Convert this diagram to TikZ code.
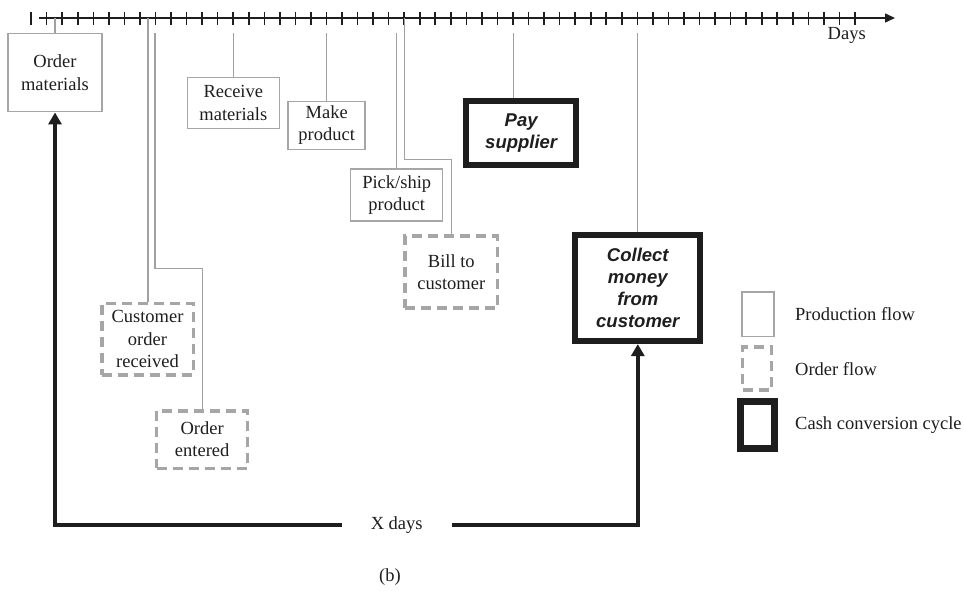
\documentclass[tikz,border=0pt]{standalone}
\usepackage{fontspec}
\setmainfont{Liberation Serif}
\newfontfamily\cashfont{Liberation Sans}
\usetikzlibrary{arrows.meta}
\definecolor{boxgrey}{HTML}{A6A6A6}
\definecolor{linegrey}{HTML}{A0A0A0}
\definecolor{ink}{HTML}{1E1E1E}
\begin{document}
\begin{tikzpicture}[x=1pt,y=-1pt,
  every node/.style={font=\fontsize{18.5}{22.3}\selectfont, text=ink, inner sep=0pt},
  prodbox/.style={draw=boxgrey, line width=1.5pt, align=center},
  orderbox/.style={draw=boxgrey, line width=3.5pt, dash pattern=on 10pt off 6pt, align=center},
  cashbox/.style={draw=ink, line width=6pt, align=center, font=\cashfont\bfseries\itshape\fontsize{18.5}{22}\selectfont},
  link/.style={draw=linegrey, line width=1.3pt},
  cyclearrow/.style={draw=ink, line width=4pt, -{Triangle[width=13pt,length=12pt]}},
  tickmark/.style={draw=ink, line width=1.6pt},
  legendtext/.style={anchor=west},
]
\useasboundingbox (0,0) rectangle (964,590);

% time axis
\coordinate (axS) at (39.3,18);
\coordinate (axE) at (895,18);
\draw[ink, line width=1.4pt, -{Triangle[length=10pt,width=9pt]}] (axS) -- (axE);
\foreach \k in {0,...,53} \draw[tickmark] (31.15+15.544*\k,12) -- ++(0,12.5);
\node (days) at (846.7,35) {Days};

% production flow boxes
\node[prodbox, minimum width=94pt, minimum height=78pt] (om) at (55,72.7) {Order\\materials};
\node[prodbox, minimum width=92pt, minimum height=51pt] (rm) at (233.3,103) {Receive\\materials};
\node[prodbox, minimum width=77pt, minimum height=48pt] (mp) at (326.7,125.3) {Make\\product};
\node[prodbox, minimum width=92pt, minimum height=52pt] (ps) at (396.7,195) {Pick/ship\\product};

% order flow boxes
\node[orderbox, minimum width=92.5pt, minimum height=72pt] (bc) at (451.3,272.2) {Bill to\\customer};
\node[orderbox, minimum width=91.5pt, minimum height=71.5pt] (cor) at (147.5,339.2) {Customer\\order\\received};
\node[orderbox, minimum width=91pt, minimum height=57.5pt] (oe) at (202.2,439.5) {Order\\entered};

% cash conversion boxes
\node[cashbox, minimum width=109.7pt, minimum height=64pt] (pay) at (521.2,133.3) {Pay\\supplier};
\node[cashbox, minimum width=125pt, minimum height=105.7pt] (cm) at (637.8,288.2) {Collect\\money\\from\\customer};

% connectors from the axis
\coordinate (a1) at (55,18);
\coordinate (a2) at (148,18);
\coordinate (a3) at (155,33);
\coordinate (a4) at (233.3,33);
\coordinate (a5) at (326.3,33);
\coordinate (a6) at (396.7,33);
\coordinate (a7) at (404.3,18);
\coordinate (a8) at (513.3,33);
\coordinate (a9) at (637.8,33);
\draw[link] (a1) -- (om.north);
\draw[link] (a2) -- (a2 |- cor.north);
\draw[link] (a3) -- ++(0,235.3) -| (oe.north);
\draw[link] (a4) -- (rm.north);
\draw[link] (a5) -- (a5 |- mp.north);
\draw[link] (a6) -- (ps.north);
\draw[link] (a7) -- ++(0,141.3) -| (bc.north);
\draw[link] (a8) -- (a8 |- pay.north);
\draw[link] (a9) -- (cm.north);

% X days cycle
\node[minimum width=110pt, minimum height=20pt] (xd) at (396.7,525) {X days};
\draw[cyclearrow] (xd.west) -- (xd.west -| om.south) -- (om.south);
\draw[cyclearrow] (xd.east) -- (xd.east -| cm.south) -- (cm.south);

% legend
\node[prodbox, minimum width=32pt, minimum height=44.5pt] (lp) at (757.8,314.2) {};
\node[orderbox, minimum width=29pt, minimum height=43pt] (lo) at (757,368.3) {};
\node[draw=ink, line width=7pt, minimum width=34pt, minimum height=46.4pt] (lc) at (757.8,425) {};
\node[legendtext] (tp) at (795,314.2) {Production flow};
\node[legendtext] (to) at (795,369) {Order flow};
\node[legendtext] (tc) at (795,425) {Cash conversion cycle};

\node (cap) at (390,577) {(b)};
\end{tikzpicture}
\end{document}
